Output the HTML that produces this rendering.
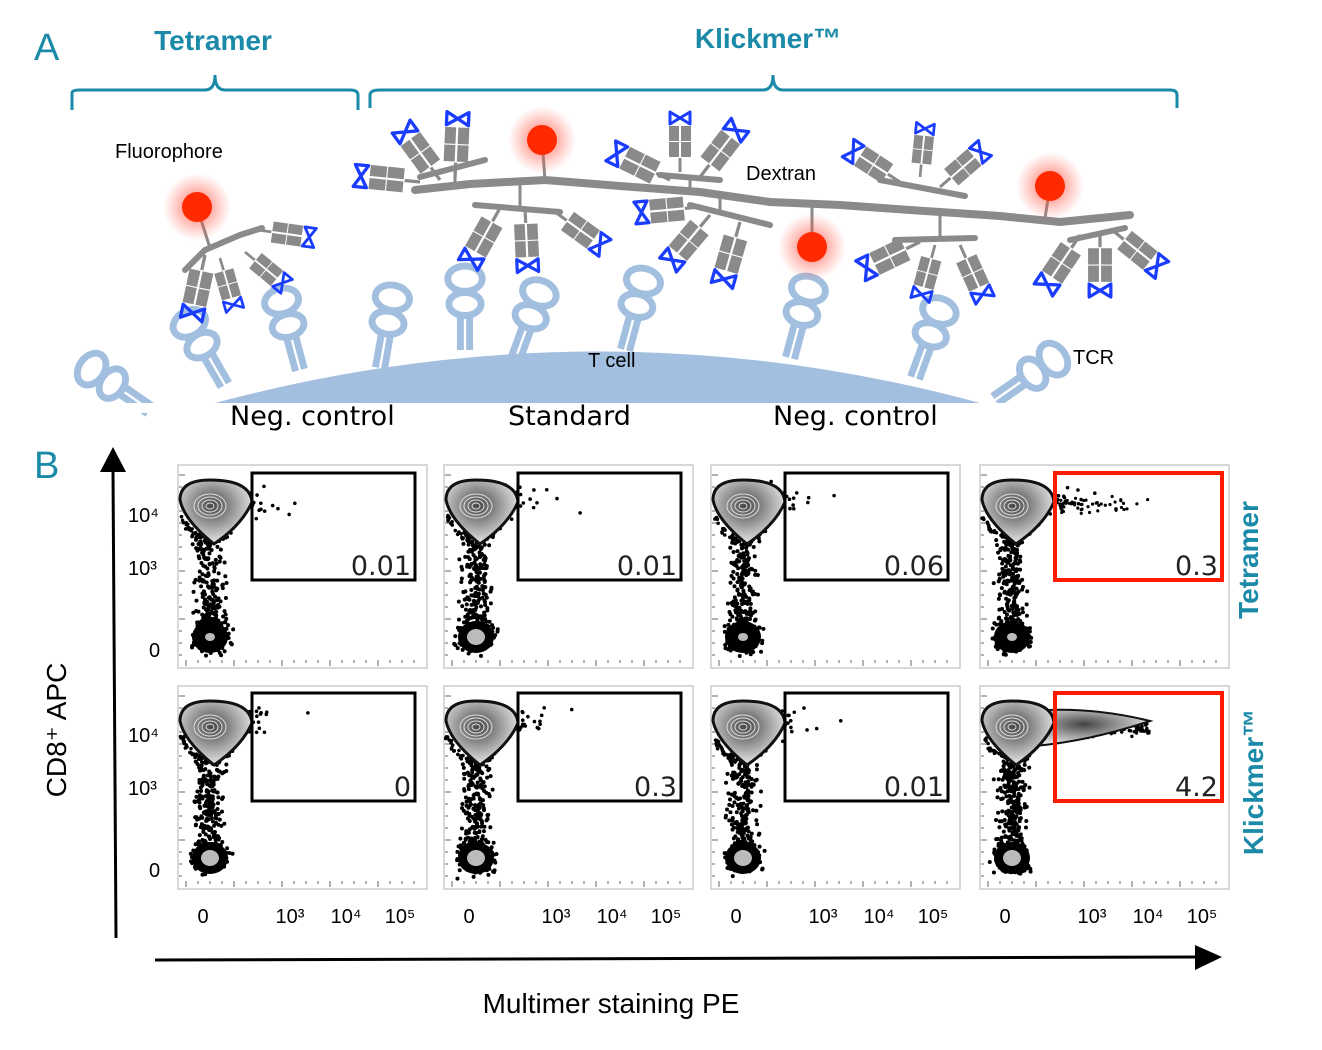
<!DOCTYPE html>
<html><head><meta charset="utf-8">
<style>
html,body{margin:0;padding:0;background:#fff;}
svg{display:block;font-family:"Liberation Sans",sans-serif;}
</style></head>
<body>
<svg id="s" width="1322" height="1050" viewBox="0 0 1322 1050" xmlns="http://www.w3.org/2000/svg">
<defs>
  <radialGradient id="glow"><stop offset="0" stop-color="#ff3a2a" stop-opacity="0.8"/><stop offset="1" stop-color="#ff6a5a" stop-opacity="0"/></radialGradient>
  <radialGradient id="cont" cx="0.45" cy="0.4" r="0.6"><stop offset="0" stop-color="#444"/><stop offset="0.5" stop-color="#999"/><stop offset="1" stop-color="#e8e8e8"/></radialGradient>
  <g id="ab">
    <line x1="0" y1="0" x2="0" y2="-14" stroke="#8a8a8a" stroke-width="3"/>
    <rect x="-11" y="-30" width="10" height="15" fill="#8a8a8a"/>
    <rect x="1" y="-30" width="10" height="15" fill="#8a8a8a"/>
    <rect x="-11" y="-46" width="10" height="15" fill="#8a8a8a"/>
    <rect x="1" y="-46" width="10" height="15" fill="#8a8a8a"/>
    <path d="M-10,-48 L10,-60 L10,-48 L-10,-60 Z" fill="none" stroke="#1a3cff" stroke-width="3" stroke-linejoin="round"/>
  </g>
  <g id="tcr" fill="none" stroke="#a3bfe0" stroke-width="6">
    <line x1="-4" y1="0" x2="-4" y2="-30"/><line x1="4" y1="0" x2="4" y2="-30"/>
    <ellipse cx="0" cy="-40" rx="14" ry="10"/>
    <ellipse cx="0" cy="-62" rx="15" ry="11"/>
  </g>
</defs>
<text x="34" y="60" font-size="38" fill="#1a8aa8">A</text>
<text x="213" y="50" font-size="28" font-weight="bold" fill="#1a8aa8" text-anchor="middle">Tetramer</text>
<text x="768" y="48" font-size="28" font-weight="bold" fill="#1a8aa8" text-anchor="middle">Klickmer™</text>
<path d="M72,110 L72,93 Q72,90 80,90 L205,90 Q215,90 215,75 Q215,90 225,90 L350,90 Q358,90 358,95 L358,110" fill="none" stroke="#1a8aa8" stroke-width="3"/>
<path d="M370,108 L370,95 Q370,90 380,90 L763,90 Q773,90 773,75 Q773,90 783,90 L1170,90 Q1177,90 1177,95 L1177,108" fill="none" stroke="#1a8aa8" stroke-width="3"/>

<g id="tcrs"></g>
<path d="M215,403 Q600,300 980,403 Z" fill="#a3bfe0"/>
<rect x="100" y="403" width="960" height="10" fill="#fff"/>

<g stroke="#8a8a8a" stroke-linecap="round" fill="none">
  <path d="M185,270 L205,250 L240,235 L262,228" stroke-width="6"/>
  <line x1="197" y1="207" x2="210" y2="248" stroke-width="3"/>
  <polyline points="415,190 470,184 545,180 620,186 700,192 770,202 840,205 910,210 1000,216 1060,222 1130,215" stroke-width="8"/>
  <polyline points="420,177 485,160" stroke-width="6"/>
  <line x1="455" y1="168" x2="455" y2="185" stroke-width="3"/>
  <polyline points="475,205 560,212" stroke-width="6"/>
  <line x1="520" y1="183" x2="520" y2="207" stroke-width="3"/>
  <polyline points="660,175 720,180" stroke-width="6"/>
  <line x1="690" y1="178" x2="690" y2="190" stroke-width="3"/>
  <polyline points="690,205 770,225" stroke-width="6"/>
  <line x1="720" y1="196" x2="720" y2="212" stroke-width="3"/>
  <polyline points="880,180 965,196" stroke-width="6"/>
  <polyline points="895,240 975,238" stroke-width="6"/>
  <line x1="940" y1="212" x2="940" y2="240" stroke-width="3"/>
  <polyline points="1070,240 1125,228" stroke-width="6"/>
  <line x1="542" y1="140" x2="545" y2="180" stroke-width="3"/>
  <line x1="812" y1="247" x2="812" y2="205" stroke-width="3"/>
  <line x1="1050" y1="186" x2="1045" y2="218" stroke-width="3"/>
</g>
<g id="abs"></g>
<g>
  <circle cx="197" cy="207" r="34" fill="url(#glow)"/><circle cx="197" cy="207" r="15" fill="#ff2a00"/>
  <circle cx="542" cy="140" r="34" fill="url(#glow)"/><circle cx="542" cy="140" r="15" fill="#ff2a00"/>
  <circle cx="812" cy="247" r="34" fill="url(#glow)"/><circle cx="812" cy="247" r="15" fill="#ff2a00"/>
  <circle cx="1050" cy="186" r="34" fill="url(#glow)"/><circle cx="1050" cy="186" r="15" fill="#ff2a00"/>
</g>
<text x="115" y="158" font-size="20">Fluorophore</text>
<text x="746" y="180" font-size="20">Dextran</text>
<text x="588" y="367" font-size="20">T cell</text>
<text x="1073" y="364" font-size="20">TCR</text>
<text x="230" y="425" font-size="27" font-family="DejaVu Sans,sans-serif">Neg. control</text>
<text x="508" y="425" font-size="27" font-family="DejaVu Sans,sans-serif">Standard</text>
<text x="773" y="425" font-size="27" font-family="DejaVu Sans,sans-serif">Neg. control</text>

<text x="34" y="478" font-size="38" fill="#1a8aa8">B</text>
<line x1="116" y1="938" x2="113" y2="470" stroke="#000" stroke-width="3"/>
<path d="M100,472 L113,447 L126,472 Z" fill="#000"/>
<line x1="155" y1="960" x2="1198" y2="957" stroke="#000" stroke-width="3"/>
<path d="M1195,945 L1222,957 L1195,970 Z" fill="#000"/>
<text transform="translate(66,730) rotate(-90)" font-size="28" text-anchor="middle">CD8⁺ APC</text>
<text x="611" y="1013" font-size="28" text-anchor="middle">Multimer staining PE</text>
<text transform="translate(1258,560) rotate(-90)" font-size="28" font-weight="bold" fill="#1a8aa8" text-anchor="middle">Tetramer</text>
<text transform="translate(1263,782) rotate(-90)" font-size="28" font-weight="bold" fill="#1a8aa8" text-anchor="middle">Klickmer™</text>
<g id="plots"></g>
</svg>
<script>
var NS="http://www.w3.org/2000/svg";
function el(p,t,a,txt){var e=document.createElementNS(NS,t);for(var k in a)e.setAttribute(k,a[k]);if(txt!=null)e.textContent=txt;p.appendChild(e);return e;}
var abs=document.getElementById('abs');
var L=[[205,255,190,325],[220,258,235,310],[245,252,285,285],[258,230,315,238],
[440,180,400,125],[455,178,458,112],[420,182,350,175],[500,208,468,265],[525,208,528,272],[555,212,605,248],
[670,180,605,148],[680,172,680,112],[700,177,740,125],[700,207,635,213],[710,215,668,265],[740,222,720,292],
[900,182,848,148],[920,177,925,128],[940,187,985,148],[920,242,858,272],[935,245,920,300],[960,245,985,300],
[1080,235,1040,295],[1100,232,1100,297],[1112,230,1162,270]];
L.forEach(function(a){var ang=Math.atan2(a[2]-a[0],-(a[3]-a[1]))*180/Math.PI;var d=Math.hypot(a[2]-a[0],a[3]-a[1]);var sc=d/60;
el(abs,'use',{href:'#ab',transform:'translate('+a[0]+','+a[1]+') rotate('+ang+') scale('+Math.min(1.1,Math.max(0.9,sc))+')'});});
var tc=document.getElementById('tcrs');
[[150,410,-55],[225,385,-30],[300,370,-15],[380,368,10],[465,350,0],[515,360,20],[625,350,15],[790,358,15],[915,378,20],[995,400,55]].forEach(function(t){
el(tc,'use',{href:'#tcr',transform:'translate('+t[0]+','+t[1]+') rotate('+t[2]+') scale(1.15)'});});
var P=document.getElementById('plots');
var seed=7;function r(){seed=(seed*16807)%2147483647;return seed/2147483647;}
function g(){return (r()+r()+r()-1.5)/1.5;}
var cols=[178,444,711,980],rows=[465,686];
var vals=[["0.01","0.01","0.06","0.3"],["0","0.3","0.01","4.2"]];
for(var ri=0;ri<2;ri++)for(var ci=0;ci<4;ci++){
 var x=cols[ci],y=rows[ri],w=249,h=203;
 el(P,'rect',{x:x,y:y,width:w,height:h,fill:'#fff',stroke:'#ccc','stroke-width':1.5});
 for(var i=0;i<20;i++){el(P,'line',{x1:x+8+i*12,y1:y+h-8,x2:x+8+i*12,y2:y+h-(i%4==0?2:5),stroke:'#666','stroke-width':1});}
 for(var i=0;i<16;i++){el(P,'line',{x1:x+1,y1:y+10+i*12,x2:x+(i%4==0?7:4),y2:y+10+i*12,stroke:'#666','stroke-width':1});}
 var cx=x+32,cy=y+45;
 var n=ri==1&&ci==3?320:260;
 for(var i=0;i<n;i++){var t=r();el(P,'circle',{cx:cx+g()*20,cy:cy+25+t*115,r:2,fill:'#000'});}
 for(var i=0;i<30;i++){el(P,'circle',{cx:cx+28+r()*40*r(),cy:cy-10+g()*22,r:1.8,fill:'#000'});}
 for(var i=0;i<4;i++){el(P,'circle',{cx:cx+45+r()*60,cy:cy-25+r()*30,r:1.8,fill:'#000'});}
 if(ri==0&&ci==3)for(var i=0;i<60;i++){el(P,'circle',{cx:x+80+r()*100*r(),cy:y+40+g()*12,r:1.6,fill:'#000'});}
 if(ri==1&&ci==3){for(var i=0;i<180;i++){var t=r();el(P,'circle',{cx:x+70+t*100,cy:y+38+t*5+g()*20*(1-t*0.6),r:1.7,fill:'#000'});}
   el(P,'path',{d:'M'+(x+50)+','+(y+25)+' Q'+(x+110)+','+(y+20)+' '+(x+170)+','+(y+35)+' Q'+(x+110)+','+(y+55)+' '+(x+55)+','+(y+60)+' Z',fill:'url(#cont)',stroke:'#111','stroke-width':2});}
 // dots around blob edge
 for(var i=0;i<60;i++){var a=Math.PI*(0.1+r()*0.8);el(P,'circle',{cx:cx+Math.cos(a)*(30+r()*6)*0.9,cy:cy-5+Math.sin(a)*(30+r()*8),r:1.8,fill:'#000'});}
 el(P,'path',{d:'M'+(cx-30)+','+(cy-10)+' Q'+(cx-30)+','+(cy-30)+' '+cx+','+(cy-30)+' Q'+(cx+40)+','+(cy-30)+' '+(cx+42)+','+(cy-8)+' Q'+(cx+32)+','+(cy+15)+' '+(cx+4)+','+(cy+34)+' Q'+(cx-26)+','+(cy+10)+' '+(cx-30)+','+(cy-10)+' Z',fill:'url(#cont)',stroke:'#111','stroke-width':3});
 for(var k=1;k<=4;k++)el(P,'ellipse',{cx:cx,cy:cy-4,rx:4*k,ry:3*k,fill:'none',stroke:'#ddd','stroke-width':1});
 var by=y+172;
 for(var i=0;i<200;i++){el(P,'circle',{cx:cx+g()*26,cy:by+g()*22,r:2,fill:'#000'});}
 el(P,'ellipse',{cx:cx,cy:by,rx:18,ry:16,fill:'#000'});
 el(P,'ellipse',{cx:cx,cy:by,rx:(ci==1||ri==1)?9:5,ry:(ci==1||ri==1)?8:4,fill:'#bbb'});
 var red=ci==3;
 var gx=red?x+75:x+74,gy=ri==0?y+8:y+7,gw=red?167:163,gh=ri==0?107:108;
 el(P,'rect',{x:gx,y:gy,width:gw,height:gh,fill:'none',stroke:red?'#ff1a00':'#000','stroke-width':red?4:3});
 el(P,'text',{x:gx+gw-4,y:gy+gh-5,'font-size':27,'text-anchor':'end',fill:'#222','font-family':'DejaVu Sans,sans-serif'},vals[ri][ci]);
 var ay=ri==0?0:220;
 if(ci==0){el(P,'text',{x:128,y:522+ay,'font-size':20},'10⁴');el(P,'text',{x:128,y:575+ay,'font-size':20},'10³');el(P,'text',{x:149,y:657+ay,'font-size':20},'0');}
 if(ri==1){var lx=[25,112,168,222],lt=['0','10³','10⁴','10⁵'];for(var j=0;j<4;j++)el(P,'text',{x:x+lx[j],y:923,'font-size':20,'text-anchor':'middle'},lt[j]);}
}
</script>
</body></html>
